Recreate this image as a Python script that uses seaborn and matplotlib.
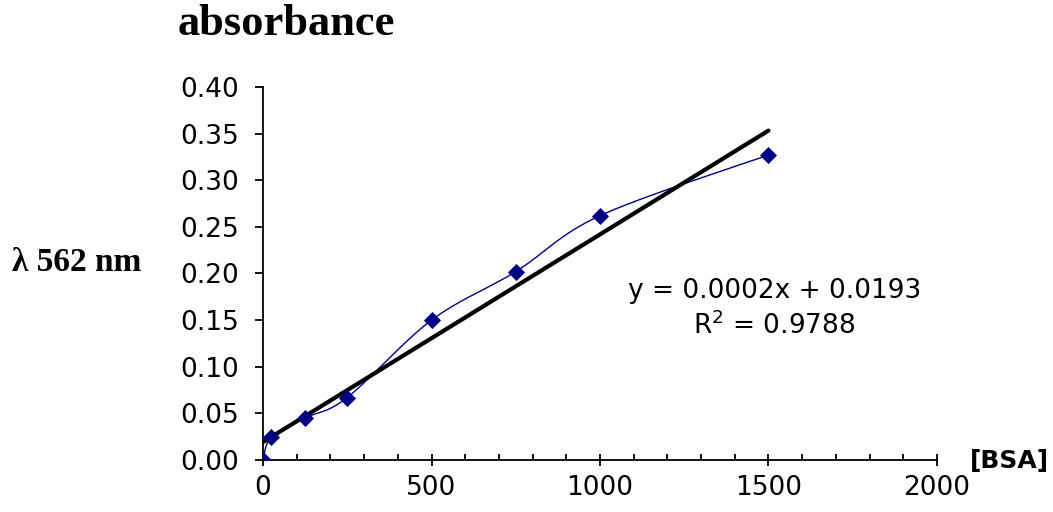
import numpy as np
import pandas as pd
import matplotlib
matplotlib.use("Agg")
import matplotlib.pyplot as plt
import seaborn as sns
from matplotlib.ticker import MultipleLocator

# --- dados ---
bsa = [0, 25, 125, 250, 500, 750, 1000, 1500]
absorb = [0.000, 0.025, 0.045, 0.067, 0.150, 0.202, 0.262, 0.327]
eq_text = "y = 0.0002x + 0.0193\nR$^2$ = 0.9788"

df = pd.DataFrame({"BSA": bsa, "Abs": absorb})


def suaviza(x, y, n=30):
    # curva suavizada tipo Excel (Bezier / Catmull-Rom)
    x = np.asarray(x, float)
    y = np.asarray(y, float)
    px = np.concatenate([[x[0]], x, [x[-1]]])
    py = np.concatenate([[y[0]], y, [y[-1]]])
    xs, ys = [], []
    t = np.linspace(0, 1, n)
    for i in range(1, len(px) - 2):
        p0, p1, p2, p3 = (np.array([px[j], py[j]]) for j in range(i - 1, i + 3))
        c1 = p1 + (p2 - p0) / 6
        c2 = p2 - (p3 - p1) / 6
        b = ((1 - t) ** 3)[:, None] * p1 + (3 * (1 - t) ** 2 * t)[:, None] * c1 \
            + (3 * (1 - t) * t ** 2)[:, None] * c2 + (t ** 3)[:, None] * p2
        xs.extend(b[:, 0])
        ys.extend(b[:, 1])
    return np.array(xs), np.array(ys)


sns.set_style("white")
plt.rcParams['font.family'] = ['DejaVu Sans']
plt.rcParams['text.color'] = 'black'
plt.rcParams['xtick.color'] = 'black'
plt.rcParams['ytick.color'] = 'black'
plt.rcParams['xtick.labelcolor'] = 'black'
plt.rcParams['ytick.labelcolor'] = 'black'

fig = plt.figure(figsize=(10.53, 5.12), dpi=100)
ax = fig.add_axes([0.2498, 0.1016, 0.64, 0.7285])

# linha suavizada azul
sx, sy = suaviza(bsa, absorb)
sns.lineplot(x=sx, y=sy, ax=ax, color="#000080", lw=1.0, sort=False, estimator=None)
sns.scatterplot(data=df, x="BSA", y="Abs", ax=ax, marker="D", s=65,
                color="#000080", edgecolor="#000080", zorder=4)

# linha de tendencia
coef = np.polyfit(bsa, absorb, 1)
tx = np.array([min(bsa), max(bsa)])
sns.lineplot(x=tx, y=np.polyval(coef, tx), ax=ax, color="black", lw=3)

ax.set_xlim(0, 2000)
ax.set_ylim(0, 0.40)
ax.set_xticks([0, 500, 1000, 1500, 2000])
ax.xaxis.set_minor_locator(MultipleLocator(100))
ax.set_yticks(np.arange(0, 0.401, 0.05))
ax.set_yticklabels([f"{v:.2f}" for v in np.arange(0, 0.401, 0.05)])
ax.tick_params(axis="x", which="major", direction="inout", length=9, width=1.3,
               labelsize=19, pad=6, bottom=True)
ax.tick_params(axis="x", which="minor", direction="in", length=4, width=1.3, bottom=True)
ax.tick_params(axis="y", direction="out", length=6, width=1.3, labelsize=19,
               pad=11, left=True)
for s in ["top", "right"]:
    ax.spines[s].set_visible(False)
for s in ["left", "bottom"]:
    ax.spines[s].set_linewidth(1.3)
    ax.spines[s].set_color("black")
ax.set_xlabel("")
ax.set_ylabel("")

ax.text(1518, 0.162, eq_text, fontsize=19, ha="center", va="center",
        linespacing=1.3, color="black")

fig.text(0.169, 0.932, "absorbance", family="Liberation Serif", weight="bold",
         fontsize=32, ha="left", va="baseline", color="black")
fig.text(0.011, 0.488, "λ 562 nm", family="Liberation Serif", weight="bold",
         fontsize=24, ha="left", va="center", color="black")
fig.text(0.921, 0.10, "[BSA]", weight="bold", fontsize=18, ha="left", va="center",
         color="black")

fig.savefig("out.png", dpi=100)
